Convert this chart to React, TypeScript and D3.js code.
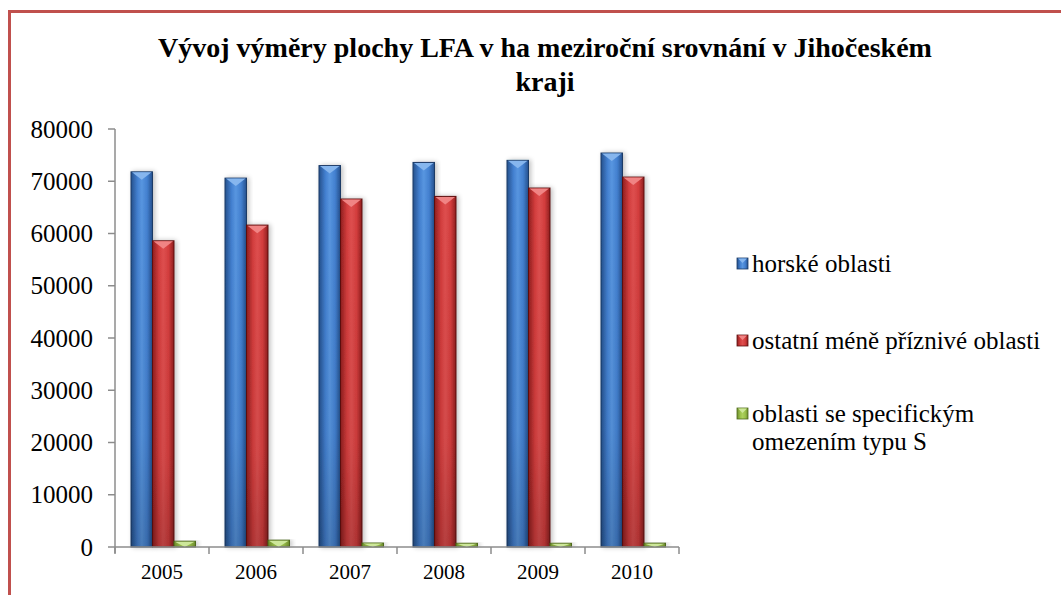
import React from "react";
import * as d3 from "d3";

const years = ["2005", "2006", "2007", "2008", "2009", "2010"];
const seriesNames = ["horské oblasti", "ostatní méně příznivé oblasti", "oblasti se specifickým omezením typu S"];
const horske = [71800, 70600, 73000, 73600, 74000, 75400];
const ostatni = [58600, 61600, 66600, 67100, 68700, 70800];
const specificke = [1100, 1300, 750, 700, 700, 730];
const yTicks = [0, 10000, 20000, 30000, 40000, 50000, 60000, 70000, 80000];

const palettes = [
  { id: "gBlue", edge: "#24508c", mid: "#4380d0", light: "#5896e0", bevel: "#86b6ee", line: "#1a3a66" },
  { id: "gRed", edge: "#8f1f1f", mid: "#d33d3d", light: "#de4f4f", bevel: "#f08484", line: "#5e1010" },
  { id: "gGreen", edge: "#6e8d2c", mid: "#9cc24c", light: "#acd15c", bevel: "#cde79a", line: "#4f6a1c" },
];

const serif = "'Liberation Serif', 'Times New Roman', serif";
const txt: React.CSSProperties = { fontFamily: serif };

export default function App() {
  const W = 1061, H = 595;
  const values = [horske, ostatni, specificke];

  const x = d3.scaleBand<string>().domain(years).range([115, 679]);
  const inner = d3.scaleBand<number>().domain([0, 1, 2]).range([16, 80.5]);
  const y = d3.scaleLinear().domain([0, 80000]).range([547, 129]);

  const axisColor = "#8c8c8c";

  return (
    <svg width={W} height={H} style={{ position: "absolute", left: 0, top: 0 }}>
      <defs>
        {palettes.map(p => (
          <linearGradient key={p.id} id={p.id} x1="0" x2="1" y1="0" y2="0">
            <stop offset="0" stopColor={p.edge} />
            <stop offset="0.3" stopColor={p.mid} />
            <stop offset="0.5" stopColor={p.light} />
            <stop offset="0.75" stopColor={p.mid} />
            <stop offset="1" stopColor={p.edge} />
          </linearGradient>
        ))}
        <linearGradient id="shade" x1="0" x2="0" y1="0" y2="1">
          <stop offset="0" stopColor="#000" stopOpacity="0" />
          <stop offset="0.7" stopColor="#000" stopOpacity="0.05" />
          <stop offset="1" stopColor="#000" stopOpacity="0.18" />
        </linearGradient>
        <filter id="shadow" x="-30%" y="-10%" width="160%" height="120%">
          <feGaussianBlur in="SourceAlpha" stdDeviation="2.5" />
          <feOffset dx="2" dy="0" result="b" />
          <feComponentTransfer><feFuncA type="linear" slope="0.25" /></feComponentTransfer>
          <feMerge><feMergeNode /><feMergeNode in="SourceGraphic" /></feMerge>
        </filter>
      </defs>

      <rect x={0} y={0} width={W} height={H} fill="#fff" />
      {/* frame */}
      <rect x={9.5} y={11.5} width={W + 20} height={H + 20} fill="none" stroke="#c0504d" strokeWidth={3} />

      {/* title */}
      <text x={545} y={57} textAnchor="middle" fontSize={28} fontWeight="bold" style={txt}>
        Vývoj výměry plochy LFA v ha meziroční srovnání v Jihočeském
      </text>
      <text x={545} y={91} textAnchor="middle" fontSize={28} fontWeight="bold" style={txt}>kraji</text>

      {/* y axis */}
      <line x1={115} x2={115} y1={y(80000)} y2={y(0) + 6} stroke={axisColor} strokeWidth={1.5} />
      {yTicks.map(t => (
        <g key={t}>
          <line x1={108} x2={115} y1={y(t)} y2={y(t)} stroke={axisColor} strokeWidth={1.5} />
          <text x={93} y={y(t) + 8.5} textAnchor="end" fontSize={25} style={txt}>{t}</text>
        </g>
      ))}

      {/* bars */}
      {years.map((yr, i) => (
        <g key={yr} transform={`translate(${x(yr)},0)`}>
          {values.map((vals, s) => {
            const p = palettes[s];
            const bx = inner(s)!;
            const bw = inner.bandwidth();
            const top = y(vals[i]);
            const h = y(0) - top;
            const bev = Math.min(8, h);
            return (
              <g key={s} filter="url(#shadow)">
                <rect x={bx} y={top} width={bw} height={h} fill={`url(#${p.id})`} stroke={p.line} strokeWidth={1} />
                <rect x={bx} y={top} width={bw} height={h} fill="url(#shade)" />
                <path d={`M${bx + 1},${top + 0.5}L${bx + bw - 1},${top + 0.5}L${bx + bw / 2},${top + bev}Z`} fill={p.bevel} />
              </g>
            );
          })}
        </g>
      ))}

      {/* x axis */}
      <line x1={115} x2={679} y1={y(0)} y2={y(0)} stroke={axisColor} strokeWidth={1.5} />
      {[...years.map(yr => x(yr)!), 679].map((px, k) => (
        <line key={k} x1={px} x2={px} y1={y(0)} y2={y(0) + 7} stroke={axisColor} strokeWidth={1.5} />
      ))}
      {years.map(yr => (
        <text key={yr} x={x(yr)! + x.bandwidth() / 2} y={579} textAnchor="middle" fontSize={21} style={txt}>{yr}</text>
      ))}

      {/* legend */}
      {[
        { p: palettes[0], lines: [seriesNames[0]], y: 263 },
        { p: palettes[1], lines: [seriesNames[1]], y: 340 },
        { p: palettes[2], lines: ["oblasti se specifickým", "omezením typu S"], y: 413 },
      ].map((item, k) => (
        <g key={k}>
          <rect x={737} y={item.y - 5} width={11} height={11} fill={`url(#${item.p.id})`} stroke={item.p.line} strokeWidth={0.8} />
          <path d={`M738,${item.y - 4.5}L747,${item.y - 4.5}L742.5,${item.y}Z`} fill={item.p.bevel} />
          {item.lines.map((ln, j) => (
            <text key={j} x={752} y={item.y + 8.5 + j * 28} fontSize={25} style={txt}>{ln}</text>
          ))}
        </g>
      ))}
    </svg>
  );
}
